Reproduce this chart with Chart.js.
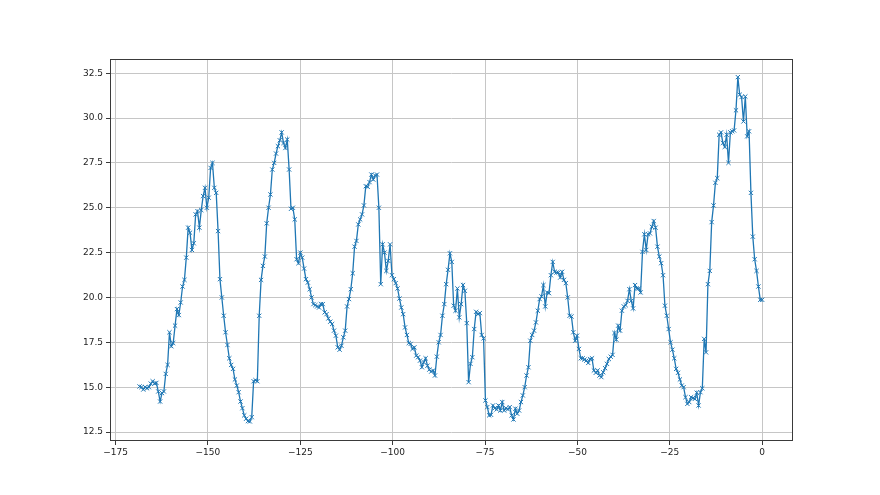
<!DOCTYPE html>
<html lang="en">
<head>
    <meta charset="UTF-8">
    <title>Temperature, last 7 days</title>
    <style>
        body, html {
            margin: 0;
            padding: 0;
            background: white;
            overflow: hidden;
        }
        #chart {
            display: block;
        }
    </style>
</head>
<body>

<canvas id="chart" width="880" height="495"></canvas>

<script src="https://cdn.jsdelivr.net/npm/chart.js"></script>
<script>
    // readings, oldest first (roughly every half hour)
    const temperature = [
        15.04, 15.0, 14.87, 15.0, 14.94, 15.0, 15.2, 15.33, 15.2, 15.24,
        14.76, 14.2, 14.67, 14.76, 15.74, 16.24, 18.06, 17.28, 17.46, 18.43,
        19.35, 19.02, 19.72, 20.61, 20.98, 22.22, 23.89, 23.61, 22.65, 23.02,
        24.63, 24.81, 23.89, 24.87, 25.65, 26.11, 25.0, 25.56, 27.22, 27.5,
        26.11, 25.83, 23.7, 21.02, 20.0, 18.98, 18.06, 17.35, 16.61, 16.24,
        16.02, 15.43, 15.09, 14.72, 14.2, 13.83, 13.43, 13.24, 13.11,
        13.09, 13.33, 15.33, 15.39, 15.33, 18.98, 20.98, 21.76, 22.28, 24.13,
        25.0, 25.74, 27.13, 27.5, 28.02, 28.43, 28.76, 29.2, 28.61, 28.33,
        28.8, 27.13, 24.94, 25.0, 24.35, 22.13, 21.91, 22.5, 22.22, 21.61,
        21.02, 20.83, 20.46, 20.0, 19.63, 19.57, 19.5, 19.44, 19.63, 19.63,
        19.17, 19.07, 18.83, 18.65, 18.52, 18.15, 17.87, 17.22, 17.09, 17.31,
        17.78, 18.15, 19.5, 19.91, 20.46, 21.35, 22.83, 23.15, 24.07, 24.35,
        24.63, 25.13, 26.2, 26.17, 26.43, 26.85, 26.57, 26.8, 26.85, 25.0,
        20.74, 22.96, 22.5, 21.48, 22.04, 22.96, 21.24, 21.02, 20.8, 20.5,
        19.94, 19.44, 19.07, 18.33, 17.91, 17.46, 17.41, 17.13, 17.22, 16.76,
        16.67, 16.48, 16.11, 16.39, 16.61, 16.2, 15.98, 15.87, 15.93, 15.65,
        16.7, 17.5, 17.91, 18.98, 19.63, 20.74, 21.54, 22.46, 21.98, 19.54,
        19.26, 20.5, 18.89, 19.63, 20.69, 20.37, 18.57, 15.28, 16.3,
        16.67, 18.24, 19.2, 19.07, 19.13, 17.91, 17.72, 14.26, 13.89, 13.43,
        13.46, 13.98, 13.83, 13.76, 13.98, 13.7, 14.17, 13.7, 13.83, 13.76,
        13.89, 13.43, 13.2, 13.8, 13.52, 13.7, 14.17, 14.54, 15.0, 15.65,
        16.11, 17.59, 17.91, 18.15, 18.61, 19.26, 19.91, 20.06, 20.69, 19.5,
        20.28, 20.24, 21.24, 21.98, 21.43, 21.39, 21.39, 21.11, 21.43, 20.98,
        20.8, 20.0,
        18.98, 18.94, 18.06, 17.59, 17.87, 17.13, 16.61, 16.61, 16.54, 16.48,
        16.35, 16.57, 16.61, 15.93, 15.8, 15.93, 15.65, 15.56, 15.83, 16.06,
        16.3, 16.57, 16.7, 16.8, 18.02, 17.65, 18.43, 18.15, 19.26, 19.5,
        19.57, 19.81, 20.46, 19.81, 19.39, 20.69, 20.5, 20.5, 20.28, 22.54,
        23.52, 22.65, 23.52, 23.57, 23.94, 24.26, 23.89, 22.83, 22.28, 21.91,
        21.24, 19.54, 18.98, 18.24, 17.5, 17.09, 16.61, 16.02, 15.8, 15.43,
        15.09, 15.0, 14.44, 14.07, 14.17,
        14.44, 14.39, 14.35, 14.69, 13.98, 14.72, 14.94, 17.69, 16.94, 20.74,
        21.48, 24.2, 25.13, 26.39, 26.65, 29.07, 29.2, 28.61, 28.39, 29.07,
        27.5, 29.2, 29.26, 29.31, 30.43, 32.28, 31.3, 31.17, 29.81, 31.2,
        28.98, 29.26, 25.83, 23.39, 22.13, 21.48, 20.61, 19.87, 19.87
    ];
    const firstHour = -168.5;
    const lastHour = 0;

    const xTicks = [-175, -150, -125, -100, -75, -50, -25, 0];
    const yTicks = [12.5, 15.0, 17.5, 20.0, 22.5, 25.0, 27.5, 30.0, 32.5];

    const step = (lastHour - firstHour) / (temperature.length - 1);
    const points = temperature.map((t, i) => ({ x: firstHour + i * step, y: t }));

    // matplotlib style closed box around the plot
    const boxPlugin = {
        id: 'box',
        afterDraw(chart) {
            const a = chart.chartArea;
            const ctx = chart.ctx;
            ctx.save();
            ctx.strokeStyle = '#3a3a3a';
            ctx.lineWidth = 1;
            ctx.strokeRect(Math.round(a.left) + 0.5, Math.round(a.top) + 0.5,
                Math.round(a.right - a.left) - 1, Math.round(a.bottom - a.top) - 1);
            ctx.restore();
        }
    };

    const fmtMinus = v => String(v).replace('-', '\u2212');

    new Chart(document.getElementById('chart').getContext('2d'), {
        type: 'line',
        data: {
            datasets: [{
                data: points,
                borderColor: '#1f77b4',
                borderWidth: 1.3,
                pointStyle: 'crossRot',
                pointRadius: 3,
                pointBorderColor: '#1f77b4',
                pointBorderWidth: 1,
                pointHoverRadius: 3,
                tension: 0,
                fill: false
            }]
        },
        options: {
            responsive: false,
            animation: false,
            layout: { padding: { top: 59, right: 87, bottom: 0, left: 0 } },
            plugins: {
                legend: { display: false },
                tooltip: { enabled: false }
            },
            scales: {
                x: {
                    type: 'linear',
                    min: -176.5,
                    max: 8.35,
                    afterFit(scale) { scale.height = 54; },
                    afterBuildTicks(scale) { scale.ticks = xTicks.map(v => ({ value: v })); },
                    grid: { color: '#c6c6c6', tickColor: '#3a3a3a', tickLength: 4, lineWidth: 1 },
                    border: { display: false },
                    ticks: {
                        color: '#222',
                        font: { family: 'DejaVu Sans', size: 9 },
                        padding: 2,
                        maxRotation: 0,
                        callback: v => fmtMinus(v)
                    }
                },
                y: {
                    min: 12.0,
                    max: 33.29,
                    afterFit(scale) { scale.width = 110; },
                    afterBuildTicks(scale) { scale.ticks = yTicks.map(v => ({ value: v })); },
                    grid: { color: '#c6c6c6', tickColor: '#3a3a3a', tickLength: 4, lineWidth: 1 },
                    border: { display: false },
                    ticks: {
                        color: '#222',
                        font: { family: 'DejaVu Sans', size: 9 },
                        padding: 3,
                        callback: v => v.toFixed(1)
                    }
                }
            }
        },
        plugins: [boxPlugin]
    });
</script>

</body>
</html>
